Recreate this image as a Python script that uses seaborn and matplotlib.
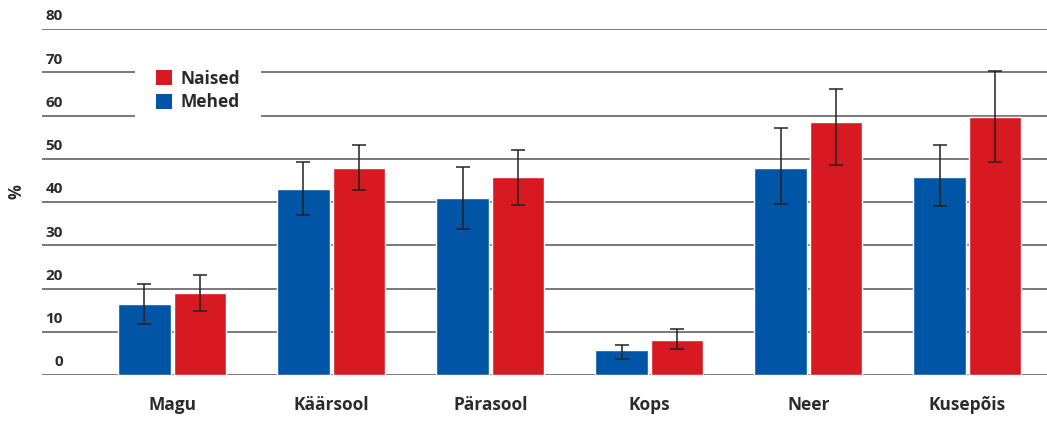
import matplotlib
matplotlib.use("Agg")
import matplotlib.pyplot as plt
import matplotlib.transforms as mtransforms
from matplotlib.patches import Patch
import pandas as pd
import seaborn as sns

# Cancer sites and age-standardised percentages by sex, with confidence limits
sites = ["Magu", "Käärsool", "Pärasool", "Kops", "Neer", "Kusepõis"]
men_values = [16.4, 43.0, 40.9, 5.8, 47.9, 45.8]
men_low = [11.8, 37.0, 33.8, 3.7, 39.5, 39.0]
men_high = [21.0, 49.2, 48.1, 7.0, 57.2, 53.2]
women_values = [19.0, 47.9, 45.8, 8.1, 58.5, 59.7]
women_low = [14.8, 42.8, 39.3, 6.0, 48.5, 49.2]
women_high = [23.1, 53.2, 52.0, 10.6, 66.1, 70.2]
series_names = ["Mehed", "Naised"]
y_ticks = [0, 10, 20, 30, 40, 50, 60, 70, 80]

BLUE = "#0055A6"
RED = "#D71921"
TEXT = "#2b2b2b"

df = pd.DataFrame({
    "site": sites * 2,
    "sex": [series_names[0]] * len(sites) + [series_names[1]] * len(sites),
    "value": men_values + women_values,
    "low": men_low + women_low,
    "high": men_high + women_high,
})

sns.set_theme(style="white")
plt.rcParams["font.family"] = ["Open Sans", "DejaVu Sans"]

fig = plt.figure(figsize=(10.47, 4.21), dpi=100)
ax = fig.add_axes([0.040, 0.109, 0.960, 0.822])

sns.barplot(data=df, x="site", y="value", hue="sex", order=sites,
            hue_order=series_names, palette=[BLUE, RED],
            width=0.70, gap=0.06, errorbar=None, saturation=1,
            legend=False, ax=ax, zorder=3)

# Bars are drawn hue level by hue level, in site order -> same order as df rows
bars = list(ax.patches)[:len(df)]
for bar, (_, row) in zip(bars, df.iterrows()):
    cx = bar.get_x() + bar.get_width() / 2
    h = bar.get_height()
    ax.errorbar(cx, h, yerr=[[h - row["low"]], [row["high"] - h]],
                fmt="none", ecolor="#222222", elinewidth=1.1,
                capsize=5, capthick=1.1, zorder=4)

ax.set_ylim(0, 80)
ax.set_xlim(-0.82, 5.5)
for y in y_ticks:
    ax.axhline(y, color="#555555", lw=1.1, zorder=1)

ax.set_yticks([])
ax.set_xlabel("")
ax.set_ylabel("")
for s in ax.spines.values():
    s.set_visible(False)

# y tick labels sit just above their grid lines
trans = mtransforms.blended_transform_factory(ax.transAxes, ax.transData)
for y in y_ticks:
    ax.text(0.021, y + 1.3, f"{y}", transform=trans, ha="right", va="bottom",
            fontsize=11, fontweight="bold", color=TEXT)

ax.tick_params(axis="x", length=0, pad=15)
for lbl in ax.get_xticklabels():
    lbl.set_fontsize(12.5)
    lbl.set_fontweight("bold")
    lbl.set_color(TEXT)

fig.text(0.016, 0.545, "%", rotation=90, ha="center", va="center",
         fontsize=12, fontweight="bold", color=TEXT)

handles = [Patch(facecolor=RED, edgecolor="none"),
           Patch(facecolor=BLUE, edgecolor="none")]
leg = ax.legend(handles, ["Naised", "Mehed"], loc="upper left",
                bbox_to_anchor=(0.0925, 0.942), frameon=True, fancybox=False,
                facecolor="white", edgecolor="none", framealpha=1,
                prop={"size": 12.5, "weight": "bold"},
                handlelength=0.95, handleheight=0.95, handletextpad=0.5,
                labelspacing=0.3, borderpad=1.2, borderaxespad=0)
for t in leg.get_texts():
    t.set_color(TEXT)
leg.set_zorder(5)

fig.savefig("out.png", dpi=100)
